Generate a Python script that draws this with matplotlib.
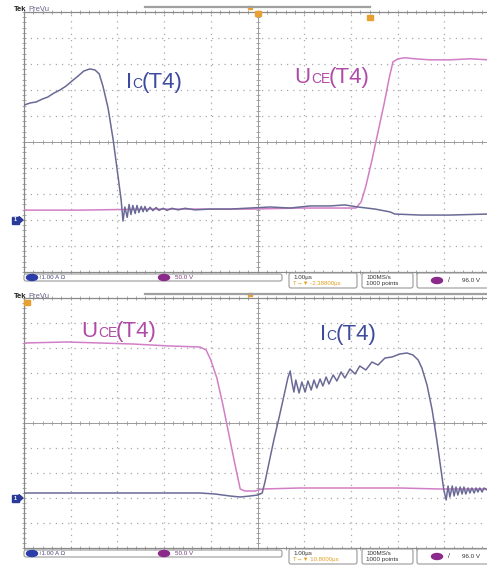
import matplotlib
matplotlib.use("Agg")
import matplotlib.pyplot as plt
import numpy as np
from matplotlib.patches import FancyBboxPatch, Ellipse, Rectangle, Polygon
from matplotlib.transforms import IdentityTransform

plt.rcParams["font.family"] = ["Liberation Sans", "DejaVu Sans"]

W, H = 487, 565

# scope settings: 1 A/div for Ic, 50 V/div for Uce, both grounds at -3 div
IC_SCALE = 1.0
UCE_SCALE = 50.0
GND_DIV = -3.0

# turn-off of T4 (time in us, current in A, voltage in V)
off_ic_t = [0.00, 0.13, 0.26, 0.39, 0.51, 0.64, 0.77, 0.90, 1.03, 1.16, 1.28, 1.41, 1.52,
            1.61, 1.69, 1.80, 1.91, 2.01, 2.08, 2.12, 2.16, 2.21, 2.25, 2.29, 2.33, 2.38,
            2.42, 2.46, 2.51, 2.55, 2.59, 2.63, 2.70, 2.76, 2.83, 2.89, 2.98, 3.06, 3.17,
            3.30, 3.45, 3.66, 3.98, 4.41, 4.84, 5.27, 5.70, 6.12, 6.55, 6.87, 7.15, 7.52,
            7.84, 7.94, 8.48, 9.12, 9.95]
off_ic_a = [4.42, 4.50, 4.54, 4.65, 4.73, 4.88, 5.00, 5.15, 5.35, 5.54, 5.73, 5.81, 5.77,
            5.62, 5.15, 4.31, 3.08, 1.73, 0.77, -0.04, 0.50, 0.10, 0.60, 0.21, 0.56, 0.25,
            0.56, 0.29, 0.52, 0.32, 0.52, 0.33, 0.49, 0.36, 0.48, 0.37, 0.45, 0.37, 0.45,
            0.39, 0.45, 0.39, 0.42, 0.42, 0.46, 0.50, 0.46, 0.54, 0.54, 0.58, 0.50, 0.42,
            0.31, 0.23, 0.19, 0.19, 0.23]
off_uce_t = [0.00, 1.20, 2.70, 4.84, 5.91, 6.77, 7.11, 7.22, 7.32, 7.45, 7.58, 7.71, 7.82,
             7.90, 8.01, 8.16, 8.37, 8.69, 9.12, 9.55, 9.95]
off_uce_v = [19, 19, 21, 21, 23, 23, 23, 35, 65, 115, 169, 223, 273,
             304, 310, 312, 310, 308, 308, 310, 308]

# turn-on of T4
on_uce_t = [0.00, 0.92, 1.63, 2.33, 3.13, 3.77, 3.90, 4.00, 4.13, 4.26, 4.39, 4.52, 4.63,
            4.73, 4.95, 5.10, 5.91, 6.98, 8.05, 8.91, 9.95]
on_uce_v = [310, 312, 310, 308, 304, 302, 296, 276, 240, 186, 126, 66, 18,
            14, 14, 18, 20, 20, 20, 18, 18]
on_ic_t = [0.00, 1.63, 2.70, 3.77, 4.09, 4.41, 4.63, 4.84, 5.01, 5.10, 5.16, 5.25, 5.35,
           5.46, 5.57, 5.65, 5.70, 5.74, 5.78, 5.82, 5.89, 5.95, 6.02, 6.08, 6.15, 6.21,
           6.27, 6.34, 6.40, 6.47, 6.53, 6.62, 6.70, 6.79, 6.87, 6.98, 7.09, 7.19, 7.32,
           7.45, 7.58, 7.73, 7.88, 8.05, 8.20, 8.33, 8.44, 8.52, 8.63, 8.74, 8.84, 8.93,
           8.99, 9.04, 9.08, 9.12, 9.17, 9.21, 9.25, 9.29, 9.34, 9.38, 9.42, 9.46, 9.51,
           9.55, 9.59, 9.64, 9.68, 9.72, 9.76, 9.81, 9.85, 9.95]
on_ic_a = [0.20, 0.20, 0.20, 0.20, 0.16, 0.08, 0.04, 0.08, 0.12, 0.20, 0.64, 1.44, 2.32,
           3.20, 4.12, 4.80, 5.08, 4.60, 4.24, 4.72, 4.20, 4.64, 4.24, 4.68, 4.32, 4.72,
           4.40, 4.76, 4.48, 4.84, 4.56, 4.92, 4.68, 5.04, 4.80, 5.16, 4.96, 5.28, 5.12,
           5.44, 5.32, 5.60, 5.64, 5.76, 5.80, 5.72, 5.52, 5.20, 4.52, 3.52, 2.32, 1.12,
           0.32, -0.08, 0.48, 0.04, 0.48, 0.08, 0.44, 0.12, 0.44, 0.16, 0.44, 0.16, 0.40,
           0.20, 0.40, 0.20, 0.40, 0.24, 0.40, 0.24, 0.40, 0.28]

IC_COLOR = "#6a6a96"
UCE_COLOR = "#d27ec6"
IC_TEXT = "#3d4a9e"
UCE_TEXT = "#b04aa8"
GRID = "#a8a8a8"


def px(x, y):
    # pixel position (from top-left) to display coords
    return x, H - y


def graticule(ax):
    ax.set_xlim(0, 10)
    ax.set_ylim(-5, 5)
    ax.set_xticks([])
    ax.set_yticks([])
    for s in ax.spines.values():
        s.set_color("#8a8a8a")
        s.set_linewidth(0.9)
    for x in range(1, 10):
        if x != 5:
            ax.axvline(x, color=GRID, lw=0.9, ls=(0, (1, 4)), zorder=1)
    for y in range(-4, 5):
        if y != 0:
            ax.axhline(y, color=GRID, lw=0.9, ls=(0, (1, 4)), zorder=1)
    ax.axvline(5, color="#9a9a9a", lw=0.7, zorder=1)
    ax.axhline(0, color="#9a9a9a", lw=0.7, zorder=1)
    fx = np.arange(0, 10.01, 0.2)
    fy = np.arange(-5, 5.01, 0.2)
    for yy in (0, 5, -5):
        ax.plot(fx, np.full_like(fx, yy), ls="none", marker="|", ms=2.5,
                mew=0.6, color="#9a9a9a", zorder=1, clip_on=False)
    for xx in (0, 5):
        ax.plot(np.full_like(fy, xx), fy, ls="none", marker="_", ms=2.5,
                mew=0.6, color="#9a9a9a", zorder=1, clip_on=False)


def to_div(vals, scale):
    return np.asarray(vals, dtype=float) / scale + GND_DIV


def label(fig, x, y, big, small, rest, color):
    fig.text(x[0] / W, 1 - y / H, big, fontsize=16, color=color, va="baseline")
    fig.text(x[1] / W, 1 - y / H, small, fontsize=10, color=color, va="baseline")
    fig.text(x[2] / W, 1 - y / H, rest, fontsize=16, color=color, va="baseline")


def header(fig, y0, bar_end):
    fig.text(14 / W, 1 - (y0 + 4) / H, "Tek", fontsize=5.5, fontweight="bold",
             color="#222222", va="baseline")
    fig.text(28 / W, 1 - (y0 + 4) / H, "PreVu", fontsize=5.5, color="#666688",
             va="baseline")
    fig.add_artist(plt.Line2D([145, bar_end], [H - y0, H - y0], color="#a0a0a0",
                              lw=1.6, transform=IdentityTransform()))
    fig.add_artist(Rectangle(px(248, y0 + 1.5), 4, 3, color="#e8a030",
                             transform=IdentityTransform()))


def ground_marker(fig, y):
    fig.add_artist(Rectangle(px(12, y + 3.5), 7, 7, color="#2a3a9a",
                             transform=IdentityTransform()))
    fig.add_artist(Polygon([px(19, y - 3.5), px(19, y + 3.5), px(23, y)],
                           color="#2a3a9a", transform=IdentityTransform()))
    fig.text(15.5 / W, 1 - y / H, "1", fontsize=4, color="white",
             ha="center", va="center", fontweight="bold")


def rbox(fig, x0, y0, x1, y1):
    fig.add_artist(FancyBboxPatch(px(x0, y1), x1 - x0, y1 - y0,
                                  boxstyle="round,pad=0,rounding_size=2",
                                  fc="white", ec="#9a9a9a", lw=0.8,
                                  transform=IdentityTransform()))


def chan_dot(fig, x, y, color):
    fig.add_artist(Ellipse(px(x, y), 11, 6, color=color,
                           transform=IdentityTransform()))


def status(fig, y0, delay):
    rbox(fig, 24, y0 + 1, 282, y0 + 8)
    chan_dot(fig, 32, y0 + 4.5, "#2c3ca8")
    fig.text(39 / W, 1 - (y0 + 4.5) / H, "≀1.00 A Ω", fontsize=4.5,
             color="#4a4a7a", va="center")
    chan_dot(fig, 164, y0 + 4.5, "#8a2a8a")
    fig.text(175 / W, 1 - (y0 + 4.5) / H, "50.0 V", fontsize=4.5,
             color="#7a3a7a", va="center")
    rbox(fig, 289, y0, 357, y0 + 15)
    fig.text(293 / W, 1 - (y0 + 4.5) / H, "1.00µs", fontsize=4.5,
             color="#333333", va="center")
    fig.text(293 / W, 1 - (y0 + 11) / H, "T→▼" + delay, fontsize=4.3,
             color="#e0a020", va="center")
    rbox(fig, 362, y0, 413, y0 + 15)
    fig.text(366 / W, 1 - (y0 + 4.5) / H, "100MS/s", fontsize=4.5,
             color="#333333", va="center")
    fig.text(366 / W, 1 - (y0 + 11) / H, "1000 points", fontsize=4.5,
             color="#333333", va="center")
    rbox(fig, 417, y0, 500, y0 + 15)
    chan_dot(fig, 437, y0 + 7.5, "#8a2a8a")
    fig.text(448 / W, 1 - (y0 + 7.5) / H, "/", fontsize=5, color="#333333",
             va="center")
    fig.text(462 / W, 1 - (y0 + 7.5) / H, "96.0 V", fontsize=4.5,
             color="#333333", va="center")


fig = plt.figure(figsize=(W / 100, H / 100), dpi=100)
fig.patch.set_facecolor("white")

ax1 = fig.add_axes([24 / W, (H - 272) / H, 467 / W, 260 / H])
ax2 = fig.add_axes([24 / W, (H - 548) / H, 467 / W, 250 / H])
graticule(ax1)
graticule(ax2)

ax1.plot(off_uce_t, to_div(off_uce_v, UCE_SCALE), color=UCE_COLOR, lw=1.1, zorder=3)
ax1.plot(off_ic_t, to_div(off_ic_a, IC_SCALE), color=IC_COLOR, lw=1.1, zorder=4)
ax2.plot(on_uce_t, to_div(on_uce_v, UCE_SCALE), color=UCE_COLOR, lw=1.1, zorder=3)
ax2.plot(on_ic_t, to_div(on_ic_a, IC_SCALE), color=IC_COLOR, lw=1.1, zorder=4)

label(fig, (126, 132, 142), 88, "I", "C", "(T4)", IC_TEXT)
label(fig, (294, 311, 329), 83, "U", "CE", "(T4)", UCE_TEXT)
label(fig, (81, 98, 116), 337, "U", "CE", "(T4)", UCE_TEXT)
label(fig, (320, 326, 336), 340, "I", "C", "(T4)", IC_TEXT)

header(fig, 7, 370)
header(fig, 294, 487)
fig.add_artist(Rectangle(px(255, 16), 6, 5, color="#e8a030",
                         transform=IdentityTransform()))
fig.add_artist(Rectangle(px(367, 20), 6, 5, color="#e8a030",
                         transform=IdentityTransform()))
fig.add_artist(Rectangle(px(24, 305), 6, 5, color="#e8a030",
                         transform=IdentityTransform()))

ground_marker(fig, 220)
ground_marker(fig, 498)

status(fig, 273, " -2.38800µs")
status(fig, 549, " 10.8000µs")

fig.savefig("out.png", dpi=100, facecolor="white")
